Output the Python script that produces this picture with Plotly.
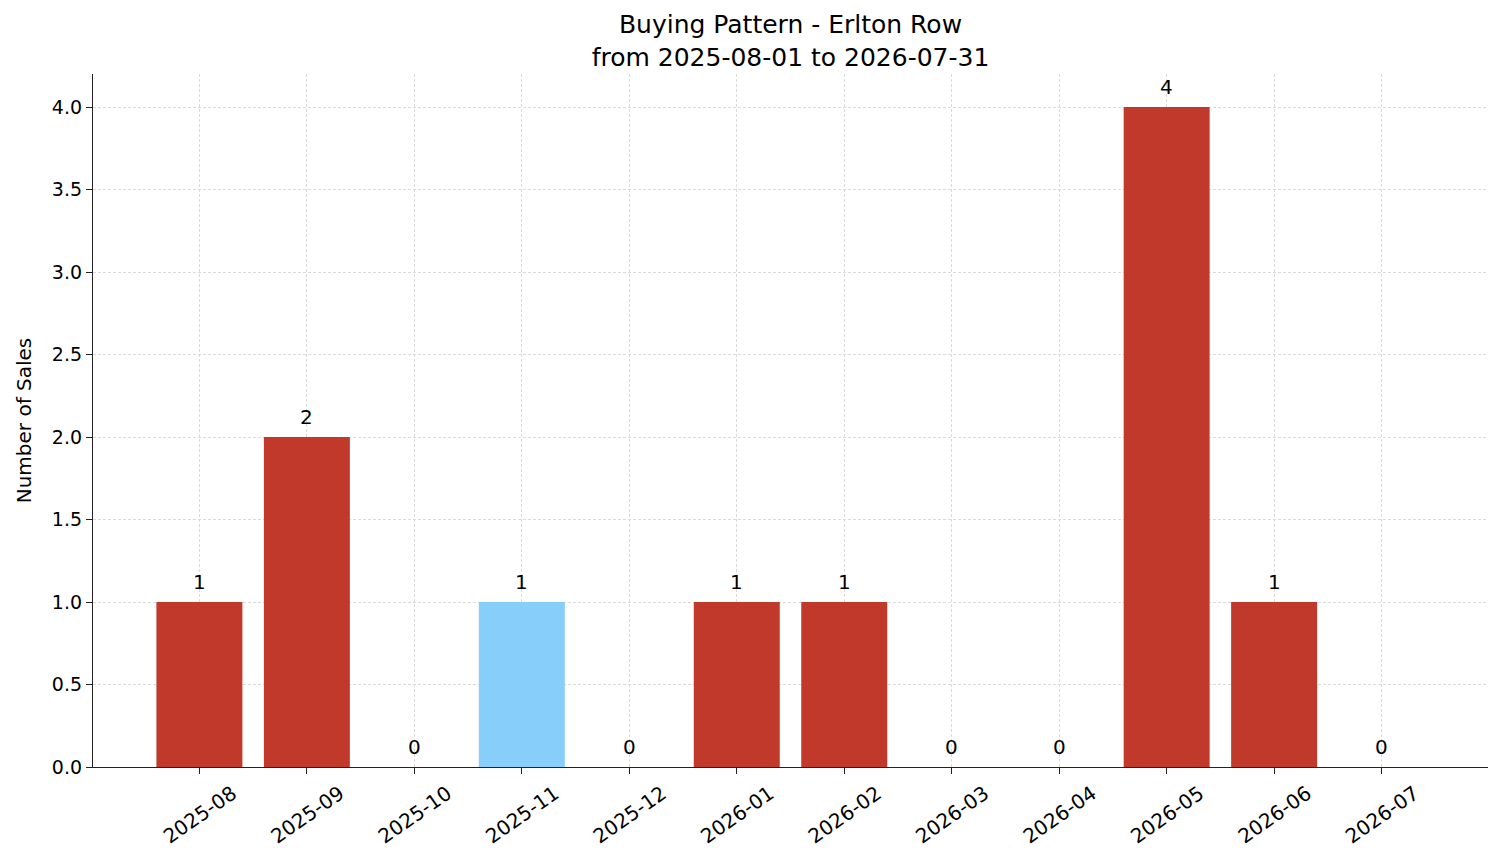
import plotly.graph_objs as go

# monthly sales counts
months = ['2025-08', '2025-09', '2025-10', '2025-11', '2025-12', '2026-01',
          '2026-02', '2026-03', '2026-04', '2026-05', '2026-06', '2026-07']
sales = [1, 2, 0, 1, 0, 1, 1, 0, 0, 4, 1, 0]
highlight = '2025-11'

RED = '#c0392b'
BLUE = '#87cefa'
colors = [BLUE if m == highlight else RED for m in months]
font = 'DejaVu Sans'

fig = go.Figure()
fig.add_trace(go.Bar(x=months, y=sales, marker_color=colors,
                     marker_line_width=0, width=0.8, showlegend=False,
                     hoverinfo='x+y'))

# value labels above bars
for m, v in zip(months, sales):
    fig.add_annotation(x=m, y=v, text=str(v), showarrow=False,
                       yanchor='bottom', yshift=6,
                       font=dict(family=font, size=20, color='black'))

# page body adds ~8px offset, so margins are nudged up/left
fig.update_layout(
    width=1501, height=863,
    margin=dict(l=85, r=21, t=66, b=104),
    paper_bgcolor='white', plot_bgcolor='white',
    font=dict(family=font, size=19, color='black'),
    title=dict(text='Buying Pattern - Erlton Row<br>from 2025-08-01 to 2026-07-31',
               x=0.5, xanchor='center', xref='paper',
               yref='container', y=1 - 25 / 863, yanchor='top',
               font=dict(size=25)),
)
grid = dict(showgrid=True, gridcolor='#dadada', griddash='3px,2px', gridwidth=0.8,
            layer='above traces', zeroline=False, automargin=False,
            showline=True, linecolor='#222222', linewidth=1.3,
            ticks='outside', ticklen=6, tickcolor='#222222', tickwidth=1.3)
fig.update_xaxes(type='category', range=[-0.99, 11.99],
                 tickangle=-35, ticklabelshift=33, tickfont=dict(size=20), **grid)
fig.update_yaxes(range=[0, 4.2], dtick=0.5, tickformat='.1f',
                 title=dict(text='Number of Sales', standoff=14,
                            font=dict(size=20)), **grid)

fig.write_html('out.html')
